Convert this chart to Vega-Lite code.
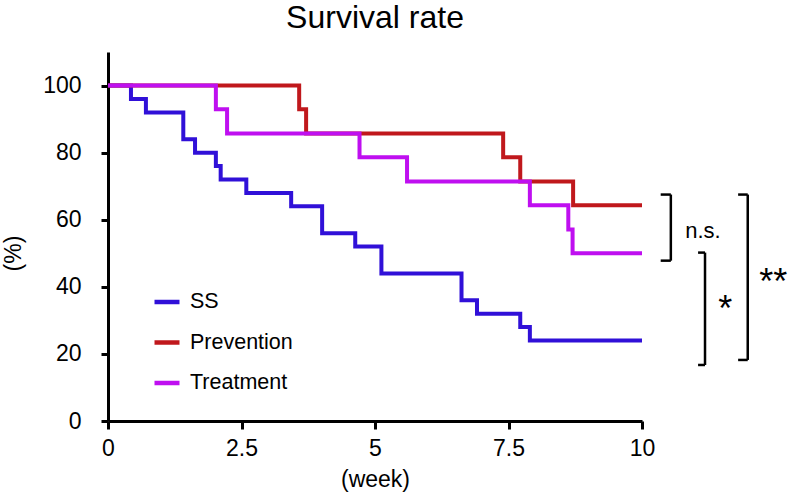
{
  "$schema": "https://vega.github.io/schema/vega-lite/v6.json",
  "width": 534,
  "height": 369,
  "autosize": {"type": "none"},
  "padding": {"left": 108, "top": 52, "right": 146, "bottom": 79},
  "title": {"text": "Survival rate", "fontSize": 32, "font": "Liberation Sans", "fontWeight": "normal", "offset": 17, "anchor": "middle", "color": "black"},
  "config": {
    "view": {"stroke": null},
    "font": "Liberation Sans",
    "axis": {"domainColor": "black", "domainWidth": 3, "tickColor": "black", "tickWidth": 3, "tickSize": 8, "labelFontSize": 23, "labelColor": "black", "titleFontSize": 23, "titleFontWeight": "normal", "titleColor": "black", "grid": false, "labelFont": "Liberation Sans", "titleFont": "Liberation Sans", "labelFlush": false}
  },
  "datasets": {
    "curves": [
      {"group": "SS", "week": 0, "pct": 100},
      {"group": "SS", "week": 0.43, "pct": 96},
      {"group": "SS", "week": 0.71, "pct": 92},
      {"group": "SS", "week": 1.41, "pct": 84},
      {"group": "SS", "week": 1.63, "pct": 80},
      {"group": "SS", "week": 2.02, "pct": 76},
      {"group": "SS", "week": 2.11, "pct": 72},
      {"group": "SS", "week": 2.59, "pct": 68},
      {"group": "SS", "week": 3.43, "pct": 64},
      {"group": "SS", "week": 4.01, "pct": 56},
      {"group": "SS", "week": 4.63, "pct": 52},
      {"group": "SS", "week": 5.12, "pct": 44},
      {"group": "SS", "week": 6.62, "pct": 36},
      {"group": "SS", "week": 6.91, "pct": 32},
      {"group": "SS", "week": 7.72, "pct": 28},
      {"group": "SS", "week": 7.9, "pct": 24},
      {"group": "SS", "week": 10, "pct": 24},
      {"group": "Prevention", "week": 0, "pct": 100},
      {"group": "Prevention", "week": 3.58, "pct": 92.9},
      {"group": "Prevention", "week": 3.71, "pct": 85.7},
      {"group": "Prevention", "week": 7.4, "pct": 78.6},
      {"group": "Prevention", "week": 7.72, "pct": 71.4},
      {"group": "Prevention", "week": 8.71, "pct": 64.3},
      {"group": "Prevention", "week": 10, "pct": 64.3},
      {"group": "Treatment", "week": 0, "pct": 100},
      {"group": "Treatment", "week": 2.02, "pct": 92.9},
      {"group": "Treatment", "week": 2.23, "pct": 85.7},
      {"group": "Treatment", "week": 4.71, "pct": 78.6},
      {"group": "Treatment", "week": 5.6, "pct": 71.4},
      {"group": "Treatment", "week": 7.9, "pct": 64.3},
      {"group": "Treatment", "week": 8.62, "pct": 57.1},
      {"group": "Treatment", "week": 8.7, "pct": 50},
      {"group": "Treatment", "week": 10, "pct": 50}
    ],
    "brackets": [
      {"week": 10.35, "week2": 10.54, "pct": 67.5, "pct2": 67.5},
      {"week": 10.54, "week2": 10.54, "pct": 67.5, "pct2": 47.8},
      {"week": 10.35, "week2": 10.54, "pct": 47.8, "pct2": 47.8},
      {"week": 11.05, "week2": 11.18, "pct": 50.2, "pct2": 50.2},
      {"week": 11.18, "week2": 11.18, "pct": 50.2, "pct2": 16.7},
      {"week": 11.05, "week2": 11.18, "pct": 16.7, "pct2": 16.7},
      {"week": 11.8, "week2": 11.98, "pct": 67.5, "pct2": 67.5},
      {"week": 11.98, "week2": 11.98, "pct": 67.5, "pct2": 18.2},
      {"week": 11.8, "week2": 11.98, "pct": 18.2, "pct2": 18.2}
    ],
    "ns": [
      {"week": 11.14, "pct": 56.5, "label": "n.s."}
    ],
    "stars": [
      {"week": 11.56, "pct": 33, "label": "*"},
      {"week": 12.46, "pct": 41, "label": "**"}
    ]
  },
  "layer": [
    {
      "data": {"name": "curves"},
      "mark": {"type": "line", "interpolate": "step-after", "strokeWidth": 4, "clip": false},
      "encoding": {
        "x": {"field": "week", "type": "quantitative", "title": "(week)", "scale": {"domain": [0, 10], "nice": false, "zero": false},
              "axis": {"values": [0, 2.5, 5, 7.5, 10], "format": ".1~f", "labelPadding": 8, "titlePadding": 8}},
        "y": {"field": "pct", "type": "quantitative", "title": "(%)", "scale": {"domain": [0, 110], "nice": false},
              "axis": {"values": [0, 20, 40, 60, 80, 100], "format": "d", "labelPadding": 20, "tickSize": 7, "titleX": -83, "titleY": 201, "titleBaseline": "bottom", "titleAngle": -90}},
        "color": {"field": "group", "type": "nominal",
                  "scale": {"domain": ["SS", "Prevention", "Treatment"], "range": ["#3010d8", "#c0181c", "#bf0ff0"]},
                  "legend": {"orient": "none", "legendX": 44, "legendY": 235, "title": null, "symbolType": "stroke", "symbolSize": 625, "symbolStrokeWidth": 4.5, "labelFontSize": 21.5, "labelFont": "Liberation Sans", "labelColor": "black", "rowPadding": 14.5, "labelOffset": 8, "padding": 0}}
      }
    },
    {
      "data": {"name": "brackets"},
      "mark": {"type": "rule", "color": "black", "strokeWidth": 2.5, "clip": false},
      "encoding": {
        "x": {"field": "week", "type": "quantitative", "title": "(week)"},
        "x2": {"field": "week2"},
        "y": {"field": "pct", "type": "quantitative", "title": "(%)"},
        "y2": {"field": "pct2"}
      }
    },
    {
      "data": {"name": "ns"},
      "mark": {"type": "text", "fontSize": 22, "font": "Liberation Sans", "color": "black", "align": "center", "baseline": "middle", "clip": false},
      "encoding": {
        "x": {"field": "week", "type": "quantitative", "title": "(week)"},
        "y": {"field": "pct", "type": "quantitative", "title": "(%)"},
        "text": {"field": "label"}
      }
    },
    {
      "data": {"name": "stars"},
      "mark": {"type": "text", "fontSize": 36, "font": "Liberation Sans", "color": "black", "align": "center", "baseline": "middle", "clip": false},
      "encoding": {
        "x": {"field": "week", "type": "quantitative", "title": "(week)"},
        "y": {"field": "pct", "type": "quantitative", "title": "(%)"},
        "text": {"field": "label"}
      }
    }
  ]
}
